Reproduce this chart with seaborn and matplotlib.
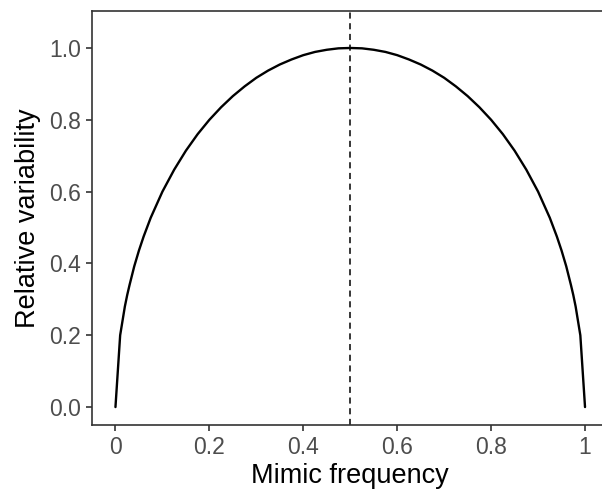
import numpy as np
import pandas as pd
import matplotlib
matplotlib.use("Agg")
import matplotlib.pyplot as plt
import seaborn as sns

# mimic frequency and relative variability
mimic_freq = [0.0, 0.01, 0.02, 0.025, 0.03, 0.04, 0.05, 0.06, 0.075, 0.1, 0.125, 0.15, 0.175, 0.2,
              0.225, 0.25, 0.275, 0.3, 0.325, 0.35, 0.375, 0.4, 0.425, 0.45, 0.475, 0.5,
              0.525, 0.55, 0.575, 0.6, 0.625, 0.65, 0.675, 0.7, 0.725, 0.75, 0.775, 0.8,
              0.825, 0.85, 0.875, 0.9, 0.925, 0.94, 0.95, 0.96, 0.97, 0.975, 0.98, 0.99, 1.0]
rel_var = [0.0, 0.20, 0.28, 0.312, 0.34, 0.392, 0.436, 0.475, 0.527, 0.60, 0.661, 0.714, 0.760, 0.80,
           0.835, 0.866, 0.893, 0.917, 0.937, 0.954, 0.968, 0.98, 0.989, 0.995, 0.999, 1.0,
           0.999, 0.995, 0.989, 0.98, 0.968, 0.954, 0.937, 0.917, 0.893, 0.866, 0.835, 0.80,
           0.760, 0.714, 0.661, 0.60, 0.527, 0.475, 0.436, 0.392, 0.34, 0.312, 0.28, 0.20, 0.0]
x_ticks = [0, 0.2, 0.4, 0.6, 0.8, 1.0]
x_tick_labels = ["0", "0.2", "0.4", "0.6", "0.8", "1"]
y_ticks = [0.0, 0.2, 0.4, 0.6, 0.8, 1.0]
y_tick_labels = ["0.0", "0.2", "0.4", "0.6", "0.8", "1.0"]

df = pd.DataFrame({"freq": mimic_freq, "var": rel_var})

sns.set_style("ticks")
plt.rcParams['font.family'] = ['Liberation Sans', 'DejaVu Sans']

fig = plt.figure(figsize=(6.02, 4.93), dpi=100)
ax = fig.add_axes([0.1528, 0.1379, 0.858, 0.8398])

sns.lineplot(data=df, x="freq", y="var", color="black", linewidth=1.7, ax=ax)
ax.axvline(0.5, color="black", linestyle=(0, (4, 3)), linewidth=1.1)

ax.set_xlim(-0.05, 1.05)
ax.set_ylim(-0.05, 1.103)
ax.set_xticks(x_ticks)
ax.set_xticklabels(x_tick_labels)
ax.set_yticks(y_ticks)
ax.set_yticklabels(y_tick_labels)

for side in ["left", "bottom", "top"]:
    ax.spines[side].set_visible(True)
    ax.spines[side].set_color("#333333")
    ax.spines[side].set_linewidth(1.2)
ax.spines["right"].set_visible(False)

ax.tick_params(axis="both", colors="#333333", labelcolor="#4D4D4D",
               length=4, width=1.2, labelsize=16.5, pad=4)
ax.set_xlabel("Mimic frequency", fontsize=19.5, color="black", labelpad=3)
ax.set_ylabel("Relative variability", fontsize=19.5, color="black", labelpad=6)

fig.savefig("out.png", dpi=100)
